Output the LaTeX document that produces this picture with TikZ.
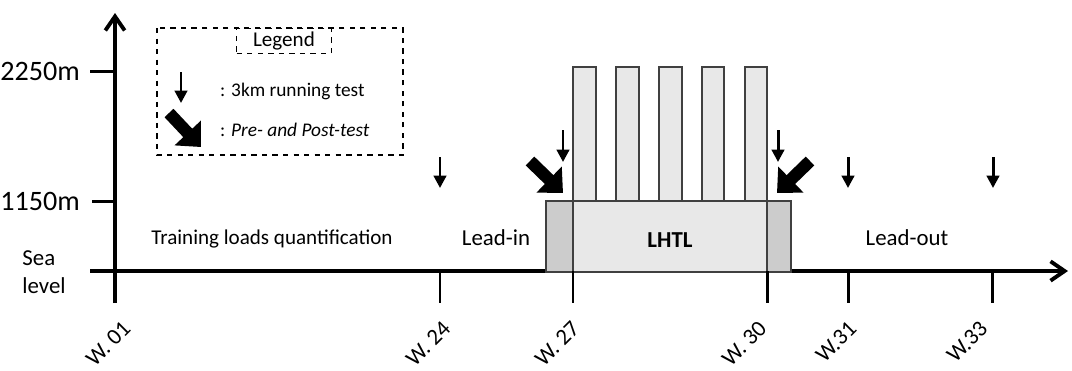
\documentclass[tikz,border=0pt]{standalone}
\usepackage{fontspec}
\setmainfont{Carlito}
\usetikzlibrary{arrows.meta}

\begin{document}
\begin{tikzpicture}[x=0.02cm, y=-0.02cm]

    % Define styles
    \tikzset{
        axis/.style={line width=2.2pt, -{Straight Barb[length=8pt, width=11pt]}},
        tick/.style={line width=1.7pt},
        level box/.style={draw=black!75, line width=0.7pt, fill=black!9},
        lead box/.style={draw=black!75, line width=0.7pt, fill=black!20},
        run arrow/.style={line width=1.7pt, -{Triangle[length=7pt, width=7pt]}},
        test arrow/.style={line width=7pt, -{Triangle[length=11pt, width=20pt]}},
        height label/.style={font=\fontsize{16}{18}\selectfont, anchor=east},
        phase label/.style={font=\fontsize{13}{15}\selectfont},
        week label/.style={font=\fontsize{13}{15}\selectfont, anchor=east, rotate=45},
        legend text/.style={font=\fontsize{11}{13}\selectfont, anchor=west}
    }

    % Fix the picture size
    \useasboundingbox (0,0) rectangle (1072,370);

    % Define coordinates for the axes
    \coordinate (y-bottom) at (115,303);
    \coordinate (y-top) at (115,13);
    \coordinate (x-left) at (90,271);
    \coordinate (x-right) at (1068,271);

    % Draw the axes
    \draw[axis] (y-bottom) -- (y-top);
    \draw[axis] (x-left) -- (x-right);

    % Altitude ticks and labels
    \draw[tick] (90,71) -- (115,71);
    \draw[tick] (92,201) -- (115,201);
    \node[height label] (alt-high) at (86,71) {2250m};
    \node[height label] (alt-low) at (86,201) {1150m};
    \node[font=\fontsize{13}{16}\selectfont, align=left] (sea) at (44,272) {Sea\\level};

    % Lead-in, LHTL and lead-out blocks
    \fill[lead box] (546,201) rectangle (573,272);
    \fill[level box] (573,201) rectangle (767,272);
    \fill[lead box] (767,201) rectangle (791,272);
    \draw[black!75, line width=0.7pt] (546,201) rectangle (573,272);
    \draw[black!75, line width=0.7pt] (573,201) rectangle (767,272);
    \draw[black!75, line width=0.7pt] (767,201) rectangle (791,272);

    % Nights at 2250m
    \foreach \a/\b in {573/596, 616/639, 659/682, 702/724, 745/767} {
        \draw[level box] (\a,67) rectangle (\b,201);
    }

    % Week ticks and labels
    \foreach \x/\lx/\wk [count=\i] in {115/131/W. 01, 440/451/W. 24, 573/580/W. 27,
                                       767/767/W. 30, 848/857/W.31, 992/988/W.33} {
        \draw[tick] (\x,271) -- (\x,303);
        \node[week label] (week-\i) at (\lx,321) {\wk};
    }

    % Phase labels
    \node[font=\fontsize{12}{14}\selectfont] (quantif) at (272,239) {Training loads quantification};
    \node[phase label] (lead-in) at (496,238) {Lead-in};
    \node[phase label, font=\fontsize{13}{15}\selectfont\bfseries] (lhtl) at (670,240) {LHTL};
    \node[phase label] (lead-out) at (907,238) {Lead-out};

    % 3km running tests
    \foreach \x/\top/\bot [count=\i] in {440/157/188, 563/130/162, 778/130/162, 848/157/188, 993/157/188} {
        \coordinate (run-s\i) at (\x,\top);
        \coordinate (run-e\i) at (\x,\bot);
        \draw[run arrow] (run-s\i) -- (run-e\i);
    }

    % Pre- and post-tests
    \coordinate (pre-s) at (530,161);
    \coordinate (pre-e) at (563,193);
    \coordinate (post-s) at (810,161);
    \coordinate (post-e) at (777,193);
    \draw[test arrow] (pre-s) -- (pre-e);
    \draw[test arrow] (post-s) -- (post-e);

    % Legend
    \draw[dashed, line width=0.6pt] (157,28) rectangle (403,155);
    \node[draw, dashed, line width=0.6pt, fill=white,
          font=\fontsize{12}{14}\selectfont, inner sep=0pt, minimum height=25*0.567pt,
          text width=95*0.567pt, align=center] (legend) at (284,41) {Legend};
    \coordinate (leg-run-s) at (181,72);
    \coordinate (leg-run-e) at (181,103);
    \draw[run arrow] (leg-run-s) -- (leg-run-e);
    \coordinate (leg-test-s) at (169,113);
    \coordinate (leg-test-e) at (201,147);
    \draw[test arrow] (leg-test-s) -- (leg-test-e);
    \node[legend text] (leg-run) at (214,91) {: 3km running test};
    \node[legend text] (leg-test) at (214,130) {: \textit{Pre- and Post-test}};

\end{tikzpicture}
\end{document}
